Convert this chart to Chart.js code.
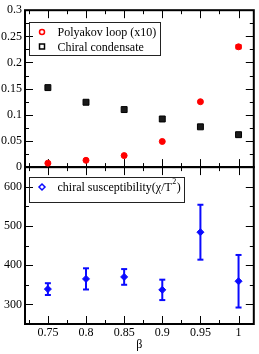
<!DOCTYPE html>
<html>
<head>
<meta charset="utf-8">
<script src="https://cdn.jsdelivr.net/npm/chart.js@4.4.0/dist/chart.umd.min.js"></script>
<style>
html, body { margin: 0; padding: 0; background: #fff; }
#wrap { width: 259px; height: 354px; }
</style>
</head>
<body>
<div id="wrap"><canvas id="myChart" width="259" height="354"></canvas></div>
<script>
// data
const beta = [0.75, 0.8, 0.85, 0.9, 0.95, 1.0];
const polyakov = [0.0075, 0.013, 0.022, 0.049, 0.125, 0.23];
const polyakovErr = [0, 0, 0, 0, 0, 0.003];
const condensate = [0.152, 0.124, 0.11, 0.092, 0.077, 0.062];
const suscept = [339, 365, 370, 337, 484, 359];
const susceptErr = [15, 27, 20, 26, 70, 67];
const xTicks = [0.75, 0.8, 0.85, 0.9, 0.95, 1];
const topTicks = [0, 0.05, 0.1, 0.15, 0.2, 0.25, 0.3];
const bottomTicks = [300, 400, 500, 600];

const serif = "'Liberation Serif', 'Times New Roman', serif";
Chart.defaults.font.family = serif;
Chart.defaults.font.size = 12;
Chart.defaults.color = '#000';

function pts(ys) {
    return beta.map((b, i) => ({x: b, y: ys[i]}));
}

// majors plus the half steps in between (and just outside, if still in range)
function tickSet(majors, min, max) {
    let out = majors.map(v => ({v: v, major: true}));
    let step = majors[1] - majors[0];
    let cand = [majors[0] - step / 2];
    for (let i = 0; i < majors.length - 1; i++) cand.push((majors[i] + majors[i + 1]) / 2);
    cand.push(majors[majors.length - 1] + step / 2);
    cand.forEach(v => out.push({v: v, major: false}));
    return out.filter(t => t.v > min + 1e-9 && t.v < max - 1e-9);
}

function line(ctx, x1, y1, x2, y2) {
    ctx.beginPath(); ctx.moveTo(x1, y1); ctx.lineTo(x2, y2); ctx.stroke();
}

const framePlugin = {
    id: 'frames',
    beforeDatasetsDraw(chart) {
        const ctx = chart.ctx;
        const x = chart.scales.x;
        ['yTop', 'yBot'].forEach(id => {
            const y = chart.scales[id];
            const L = x.left, R = x.right, T = y.top, B = y.bottom;
            ctx.save();
            ctx.strokeStyle = '#000';
            ctx.lineWidth = 1;
            tickSet(xTicks, x.min, x.max).forEach(t => {
                const px = Math.round(x.getPixelForValue(t.v)) + 0.5;
                const len = t.major ? 8 : 4;
                line(ctx, px, T, px, T + len);
                line(ctx, px, B, px, B - len);
            });
            const majors = id === 'yTop' ? topTicks : bottomTicks;
            tickSet(majors, y.min, y.max).forEach(t => {
                const py = Math.round(y.getPixelForValue(t.v)) + 0.5;
                const len = t.major ? 8 : 4;
                line(ctx, L, py, L + len, py);
                line(ctx, R, py, R - len, py);
            });
            ctx.lineWidth = 2;
            ctx.strokeRect(L, T, R - L, B - T);
            ctx.restore();
        });
        // error bars
        const errs = [[0, polyakovErr, '#ff0000'], [2, susceptErr, '#0a0aff']];
        errs.forEach(([di, err, col]) => {
            const ds = chart.data.datasets[di];
            const ys = chart.scales[ds.yAxisID];
            ctx.save();
            ctx.strokeStyle = col;
            ctx.lineWidth = 2;
            ds.data.forEach((p, i) => {
                if (!err[i]) return;
                const px = x.getPixelForValue(p.x);
                const top = ys.getPixelForValue(p.y + err[i]);
                const bot = ys.getPixelForValue(p.y - err[i]);
                line(ctx, px, top, px, bot);
                line(ctx, px - 3, top, px + 3, top);
                line(ctx, px - 3, bot, px + 3, bot);
            });
            ctx.restore();
        });
    }
};

function marker(ctx, style, cx, cy, col) {
    ctx.save();
    ctx.strokeStyle = col;
    ctx.lineWidth = 1.5;
    ctx.beginPath();
    if (style === 'circle') ctx.arc(cx, cy, 2.5, 0, Math.PI * 2);
    else if (style === 'rect') ctx.rect(cx - 2.5, cy - 2.5, 5, 5);
    else { ctx.moveTo(cx, cy - 3); ctx.lineTo(cx + 3, cy); ctx.lineTo(cx, cy + 3); ctx.lineTo(cx - 3, cy); ctx.closePath(); }
    ctx.stroke();
    ctx.restore();
}

const legendPlugin = {
    id: 'panelLegends',
    afterDatasetsDraw(chart) {
        const ctx = chart.ctx;
        const x = chart.scales.x;
        const groups = [['yTop', [0, 1], 12, 14.5], ['yBot', [2], 9.5, 0]];
        groups.forEach(([id, idx, off, rowH]) => {
            const y = chart.scales[id];
            const left = x.left + 4.5, top = Math.round(y.top + off) + 0.5;
            ctx.save();
            ctx.font = '12px ' + serif;
            ctx.textBaseline = 'middle';
            ctx.fillStyle = '#000';
            let maxW = 0;
            idx.forEach((di, r) => {
                const ds = chart.data.datasets[di];
                const cy = top + 9.5 + r * rowH;
                marker(ctx, ds.pointStyle, left + 12.5, cy, ds.borderColor);
                let tx = left + 28;
                const parts = ds.label.split('²');
                ctx.font = '12px ' + serif;
                ctx.fillText(parts[0], tx, cy + 1);
                tx += ctx.measureText(parts[0]).width;
                if (parts.length > 1) {
                    ctx.font = '8px ' + serif;
                    ctx.fillText('2', tx + 0.5, cy - 5);
                    tx += ctx.measureText('2').width + 1;
                    ctx.font = '12px ' + serif;
                    ctx.fillText(parts[1], tx, cy + 1);
                    tx += ctx.measureText(parts[1]).width;
                }
                maxW = Math.max(maxW, tx - left);
            });
            const h = idx.length === 2 ? 33 : 25;
            ctx.strokeStyle = '#222';
            ctx.lineWidth = 1;
            ctx.strokeRect(left, top, Math.round(maxW + 4), h);
            ctx.restore();
        });
    }
};

const ctx = document.getElementById('myChart');
const myChart = new Chart(ctx, {
    type: 'scatter',
    data: {
        datasets: [{
            label: 'Polyakov loop (x10)',
            data: pts(polyakov),
            yAxisID: 'yTop',
            pointStyle: 'circle',
            pointRadius: 3,
            borderWidth: 1,
            backgroundColor: '#ff0000',
            borderColor: '#ff0000'
        }, {
            label: 'Chiral condensate',
            data: pts(condensate),
            yAxisID: 'yTop',
            pointStyle: 'rect',
            pointRadius: 4.2,
            borderWidth: 1,
            backgroundColor: '#1a1a1a',
            borderColor: '#000000'
        }, {
            label: 'chiral susceptibility(χ/T²)',
            data: pts(suscept),
            yAxisID: 'yBot',
            pointStyle: 'rectRot',
            pointRadius: 3.5,
            borderWidth: 1,
            backgroundColor: '#0a0aff',
            borderColor: '#0a0aff'
        }]
    },
    options: {
        responsive: false,
        animation: false,
        devicePixelRatio: 1,
        layout: {padding: {top: 5, right: 3, left: 0, bottom: 0}},
        plugins: {legend: {display: false}, tooltip: {enabled: false}},
        scales: {
            x: {
                type: 'linear',
                position: 'bottom',
                min: 0.72,
                max: 1.02,
                grid: {display: false, drawTicks: false},
                border: {display: false},
                afterBuildTicks: s => { s.ticks = xTicks.map(v => ({value: v})); },
                afterFit: s => { s.height = 30; },
                ticks: {padding: 2, maxRotation: 0, autoSkip: false, callback: v => String(v)},
                title: {display: true, text: 'β', padding: {top: 0, bottom: 2}}
            },
            yTop: {
                type: 'linear',
                position: 'left',
                stack: 'panels',
                stackWeight: 1,
                weight: 2,
                min: 0,
                max: 0.3,
                grid: {display: false, drawTicks: false},
                border: {display: false},
                afterBuildTicks: s => { s.ticks = topTicks.map(v => ({value: v})); },
                afterFit: s => { s.width = 25; },
                ticks: {padding: 3, autoSkip: false, callback: v => String(Math.round(v * 1000) / 1000)}
            },
            yBot: {
                type: 'linear',
                position: 'left',
                stack: 'panels',
                stackWeight: 1,
                weight: 1,
                min: 250,
                max: 650,
                grid: {display: false, drawTicks: false},
                border: {display: false},
                afterBuildTicks: s => { s.ticks = bottomTicks.map(v => ({value: v})); },
                afterFit: s => { s.width = 25; },
                ticks: {padding: 3, autoSkip: false, callback: v => String(v)}
            }
        }
    },
    plugins: [framePlugin, legendPlugin]
});
</script>
</body>
</html>
